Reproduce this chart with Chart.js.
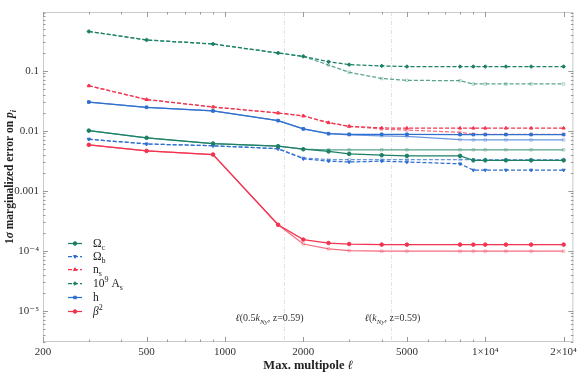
<!DOCTYPE html>
<html><head><meta charset="utf-8">
<script src="https://cdn.jsdelivr.net/npm/chart.js@4"></script>
<style>html,body{margin:0;padding:0;background:#fff;}#wrap{width:581px;height:375px;}</style>
</head><body><div id="wrap"><canvas id="c" width="581" height="375"></canvas></div>
<script>
// ---- data ----
const ells = [300,500,900,1600,2000,2500,3000,4000,5000,8000,9000,10000,12000,15000,20000];

const omegaCFull  = [0.0100,0.0076,0.0061,0.0055,0.0049,0.0045,0.0041,0.0039,0.0038,0.0038,0.0032,0.0032,0.0032,0.0032,0.0032];
const omegaCLight = [0.0100,0.0076,0.0061,0.0055,0.0049,0.0048,0.0048,0.0048,0.0048,0.0048,0.0048,0.0048,0.0048,0.0048,0.0048];

const omegaBFull  = [0.0072,0.0060,0.0056,0.0050,0.0034,0.0031,0.0030,0.0031,0.0030,0.0028,0.0022,0.0022,0.0022,0.0022,0.0022];
const omegaBLight = [0.0072,0.0060,0.0056,0.0050,0.0035,0.0033,0.0033,0.0033,0.0033,0.0033,0.0033,0.0033,0.0033,0.0033,0.0033];

const nsFull  = [0.056,0.033,0.0248,0.0197,0.0176,0.0136,0.0118,0.0111,0.0110,0.0110,0.0110,0.0110,0.0110,0.0110,0.0110];
const nsLight = [0.056,0.033,0.0248,0.0197,0.0176,0.0136,0.0118,0.0106,0.0102,0.0094,0.0087,0.0087,0.0087,0.0087,0.0087];

const asFull  = [0.45,0.325,0.278,0.197,0.173,0.141,0.126,0.120,0.117,0.117,0.117,0.117,0.117,0.117,0.117];
const asLight = [0.45,0.325,0.278,0.197,0.173,0.124,0.094,0.074,0.069,0.068,0.060,0.060,0.060,0.060,0.060];

const hFull  = [0.030,0.0245,0.0213,0.0147,0.0107,0.0089,0.0087,0.0087,0.0087,0.0086,0.0086,0.0086,0.0086,0.0086,0.0086];
const hLight = [0.030,0.0245,0.0213,0.0147,0.0107,0.0089,0.0085,0.0082,0.0080,0.0071,0.0070,0.0070,0.0070,0.0070,0.0070];

const beta2Full  = [0.0058,0.0046,0.0040,0.00027,0.000153,0.000134,0.000129,0.000126,0.000126,0.000126,0.000126,0.000126,0.000126,0.000126,0.000126];
const beta2Light = [0.0058,0.0046,0.0040,0.00027,0.000129,0.000107,0.000100,0.000098,0.000098,0.000098,0.000098,0.000098,0.000098,0.000098,0.000098];

const xTickValues = [200,500,1000,2000,5000,10000,20000];
const xTickLabels = ['200','500','1000','2000','5000','1×10⁴','2×10⁴'];
const yTickValues = [1e-5,1e-4,1e-3,1e-2,1e-1];
const yTickLabels = ['10⁻⁵','10⁻⁴','0.001','0.01','0.1'];
const xRange = [200, 21800];
const yRange = [3e-6, 0.95];

const refLines = [1680, 4330];

// ---- styles ----
const SERIF = "'Liberation Serif','DejaVu Serif',serif";
const GREEN = '#1b8065', BLUE = '#2f6fcf', RED = '#f2334f';
function alpha(hex, a){const n=parseInt(hex.slice(1),16);return `rgba(${n>>16},${(n>>8)&255},${n&255},${a})`;}

const params = [
  {name:[{t:'Ω'},{t:'c',sub:1}], full:omegaCFull, light:omegaCLight, color:GREEN, dash:[], ps:'circle', rot:0},
  {name:[{t:'Ω'},{t:'b',sub:1}], full:omegaBFull, light:omegaBLight, color:BLUE, dash:[4,2], ps:'triangle', rot:180},
  {name:[{t:'n'},{t:'s',sub:1}], full:nsFull, light:nsLight, color:RED, dash:[4,2], ps:'triangle', rot:0},
  {name:[{t:'10'},{t:'9',sup:1},{t:' A'},{t:'s',sub:1}], full:asFull, light:asLight, color:GREEN, dash:[4,2], ps:'rectRot', rot:0},
  {name:[{t:'h'}], full:hFull, light:hLight, color:BLUE, dash:[], ps:'rect', rot:0},
  {name:[{t:'β',it:1},{t:'2',sup:1}], full:beta2Full, light:beta2Light, color:RED, dash:[], ps:'circle', rot:0},
];

const datasets = [];
params.forEach(p=>{
  datasets.push({
    data: ells.map((x,i)=>({x, y:p.full[i]})),
    borderColor: p.color, backgroundColor: p.color, borderWidth: 1.25, borderDash: p.dash,
    pointStyle: p.ps, pointRotation: p.rot, pointRadius: 1.8, pointBorderWidth: 1,
    pointBackgroundColor: p.color, pointBorderColor: p.color, order: 0, fill:false
  });
});
params.forEach(p=>{
  datasets.push({
    data: ells.map((x,i)=>({x, y:p.light[i]})),
    borderColor: alpha(p.color,0.72), backgroundColor: alpha(p.color,0.72), borderWidth: 1.25, borderDash: p.dash,
    pointStyle: 'rect', pointRadius: 1.8, pointBorderWidth: 0.8,
    pointBackgroundColor: 'rgba(255,255,255,0)', pointBorderColor: alpha(p.color,0.4), order: 1, fill:false
  });
});

function fontFor(p,size,bold){
  const s = (p.sub||p.sup)? size*0.7 : size;
  return `${p.it?'italic ':''}${(bold||p.b)?'bold ':''}${s}px ${SERIF}`;
}
function richWidth(ctx, parts, size, bold){
  let w=0;
  parts.forEach(p=>{ctx.font=fontFor(p,size,bold);w+=ctx.measureText(p.t).width;});
  return w;
}
function drawRich(ctx, parts, x, y, size, align, bold, color){
  const w = richWidth(ctx, parts, size, bold);
  let cx = align==='center'? x-w/2 : (align==='right'? x-w : x);
  ctx.fillStyle = color||'#222';
  ctx.textBaseline='alphabetic'; ctx.textAlign='left';
  parts.forEach(p=>{
    ctx.font = fontFor(p,size,bold);
    const dy = p.sub? size*0.25 : (p.sup? -size*0.4 : 0);
    ctx.fillText(p.t, cx, y+dy);
    cx += ctx.measureText(p.t).width;
  });
}

const decorPlugin = {
  id:'decor',
  beforeDatasetsDraw(chart){
    const {ctx, chartArea:a, scales:{x,y}} = chart;
    ctx.save();
    ctx.strokeStyle='#e2e2e2'; ctx.lineWidth=1; ctx.setLineDash([4,2,1,2]);
    refLines.forEach(v=>{const px=Math.round(x.getPixelForValue(v))+0.5;ctx.beginPath();ctx.moveTo(px,a.top);ctx.lineTo(px,a.bottom);ctx.stroke();});
    ctx.setLineDash([]);
    ctx.strokeStyle='#cacaca';
    ctx.strokeRect(a.left+0.5,a.top+0.5,a.right-a.left-1,a.bottom-a.top-1);
    ctx.strokeStyle='#9a9a9a'; ctx.lineWidth=1;
    const tick=(px,len,vert)=>{
      ctx.beginPath();
      if(vert){const X=Math.round(px)+0.5;ctx.moveTo(X,a.bottom);ctx.lineTo(X,a.bottom-len);ctx.moveTo(X,a.top);ctx.lineTo(X,a.top+len);}
      else{const Y=Math.round(px)+0.5;ctx.moveTo(a.left,Y);ctx.lineTo(a.left+len,Y);ctx.moveTo(a.right,Y);ctx.lineTo(a.right-len,Y);}
      ctx.stroke();
    };
    for(let k=2;k<=4;k++)for(let m=1;m<=9;m++){
      const v=m*Math.pow(10,k);
      if(v<xRange[0]||v>xRange[1])continue;
      const major=xTickValues.some(t=>Math.abs(t-v)<1e-6*v);
      tick(x.getPixelForValue(v), major?5:2.5, true);
    }
    for(let k=-6;k<=-1;k++)for(let m=1;m<=9;m++){
      const v=m*Math.pow(10,k);
      if(v<yRange[0]||v>yRange[1])continue;
      tick(y.getPixelForValue(v), m===1?5:2.5, false);
    }
    ctx.restore();
  },
  afterDraw(chart){
    const {ctx, chartArea:a, scales:{x}} = chart;
    ctx.save();
    const l1=[{t:'ℓ',it:1},{t:'(0.5'},{t:'k',it:1},{t:'Ny',it:1,sub:1},{t:', z=0.59)'}];
    const l2=[{t:'ℓ',it:1},{t:'('},{t:'k',it:1},{t:'Ny',it:1,sub:1},{t:', z=0.59)'}];
    drawRich(ctx,l1,x.getPixelForValue(refLines[0])-14,321,10,'center',false,'#333');
    drawRich(ctx,l2,x.getPixelForValue(refLines[1])+2,321,10,'center',false,'#333');
    const ly=[243,256,269,283,297,311];
    params.forEach((p,i)=>{
      const yy=ly[i];
      ctx.strokeStyle=p.color; ctx.lineWidth=1.25; ctx.setLineDash(p.dash);
      ctx.beginPath(); ctx.moveTo(68,yy+0.5); ctx.lineTo(82,yy+0.5); ctx.stroke();
      ctx.setLineDash([]);
      ctx.fillStyle=p.color; ctx.strokeStyle=p.color; ctx.lineWidth=1;
      Chart.helpers.drawPoint(ctx,{pointStyle:p.ps,rotation:p.rot,radius:1.8,borderWidth:1},75,yy+0.5);
      drawRich(ctx,p.name,93,yy+4,11.5,'left',false,'#222');
    });
    drawRich(ctx,[{t:'Max. multipole '},{t:'ℓ',it:1}],(a.left+a.right)/2,369,12.5,'center',true,'#222');
    ctx.translate(13,(a.top+a.bottom)/2); ctx.rotate(-Math.PI/2);
    drawRich(ctx,[{t:'1'},{t:'σ',it:1},{t:' marginalized error on '},{t:'p',it:1},{t:'i',it:1,sub:1}],0,0,11.5,'center',true,'#222');
    ctx.restore();
  }
};

new Chart(document.getElementById('c'),{
  type:'line',
  data:{datasets},
  options:{
    responsive:false, animation:false, devicePixelRatio:1,
    layout:{padding:{top:12,right:4,left:0,bottom:0}},
    plugins:{legend:{display:false},tooltip:{enabled:false}},
    elements:{line:{tension:0}},
    scales:{
      x:{type:'logarithmic',min:xRange[0],max:xRange[1],
        grid:{display:false,drawTicks:false},border:{display:false},
        afterBuildTicks(s){s.ticks=xTickValues.map(v=>({value:v}));},
        afterFit(s){s.height=33;},
        ticks:{autoSkip:false,maxRotation:0,padding:4,color:'#333',font:{family:SERIF,size:11},
          callback(v){const i=xTickValues.indexOf(v);return i>=0?xTickLabels[i]:'';}}},
      y:{type:'logarithmic',min:yRange[0],max:yRange[1],
        grid:{display:false,drawTicks:false},border:{display:false},
        afterBuildTicks(s){s.ticks=yTickValues.map(v=>({value:v}));},
        afterFit(s){s.width=43;},
        ticks:{autoSkip:false,padding:4,color:'#333',font:{family:SERIF,size:11},
          callback(v){const i=yTickValues.findIndex(t=>Math.abs(t-v)<1e-9*t+1e-15);return i>=0?yTickLabels[i]:'';}}}
    }
  },
  plugins:[decorPlugin]
});
</script></body></html>
